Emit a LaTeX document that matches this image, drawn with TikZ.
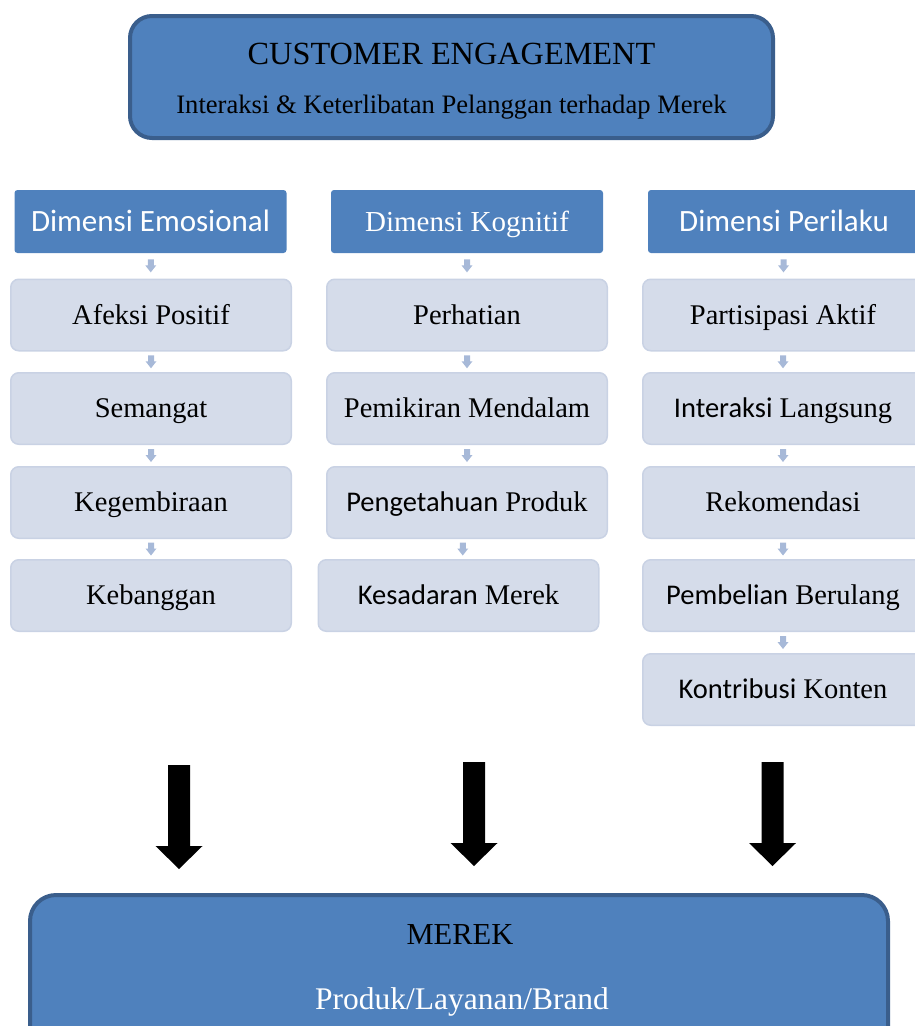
\documentclass[tikz,border=0pt]{standalone}
\usepackage{fontspec}
\setmainfont{Liberation Serif}
\newfontfamily\calfont{Carlito}
\usetikzlibrary{calc}
\definecolor{mainblue}{HTML}{4F81BD}
\definecolor{mainline}{HTML}{3A5E8C}
\definecolor{itemfill}{HTML}{D5DCEA}
\definecolor{itemline}{HTML}{C9D2E4}
\definecolor{sarrow}{HTML}{A7B9D8}
\tikzset{
  bigbox/.style={draw=mainline, line width=4pt, fill=mainblue, rounded corners=22pt, inner sep=0pt},
  hdrbox/.style={fill=mainblue, rounded corners=3pt, inner sep=0pt, text=white,
     minimum width=272pt, minimum height=63pt, text height=20pt, text depth=0pt},
  hdrsans/.style={font=\calfont\fontsize{31}{35}\selectfont},
  hdrserif/.style={font=\fontsize{29}{33}\selectfont},
  itembox/.style={fill=itemfill, draw=itemline, line width=1.5pt, rounded corners=8pt, inner sep=0pt,
     minimum width=280.5pt, minimum height=71.5pt, text height=18.5pt, text depth=0pt,
     font=\fontsize{28.5}{32}\selectfont},
  smallarr/.pic={\fill[sarrow] (-3,-6.5) -- (3,-6.5) -- (3,-0.5) -- (5.5,-0.5) -- (0,6.5) -- (-5.5,-0.5) -- (-3,-0.5) -- cycle;},
  bigarr/.pic={\fill[black] (-11,0) -- (11,0) -- (11,81) -- (23.5,81) -- (0,104) -- (-23.5,81) -- (-11,81) -- cycle;}
}
\newcommand{\cs}[1]{{\calfont #1}}
\begin{document}
\begin{tikzpicture}[x=1pt,y=-1pt]
\useasboundingbox (0,0) rectangle (915,1026);
\clip (0,0) rectangle (915,1026);
% top box
\node[bigbox, minimum width=643pt, minimum height=122pt] (top) at (451.5,77) {};
\node[anchor=base, font=\fontsize{32.3}{36}\selectfont] (toptitle) at (451.5,64) {CUSTOMER ENGAGEMENT};
\node[anchor=base, font=\fontsize{26.6}{30}\selectfont] (topsub) at (451.5,113) {Interaksi \& Keterlibatan Pelanggan terhadap Merek};
% headers
\node[hdrbox, hdrsans] (h1) at (150.5,221.5) {Dimensi Emosional};
\node[hdrbox, hdrserif] (h2) at (467,221.5) {Dimensi Kognitif};
\node[hdrbox, hdrsans] (h3) at (784,221.5) {Dimensi Perilaku};
% column 1
\node[itembox] (a1) at (151,315) {Afeksi Positif};
\node[itembox] (a2) at (151,408.5) {Semangat};
\node[itembox] (a3) at (151,502.5) {Kegembiraan};
\node[itembox] (a4) at (151,595.5) {Kebanggan};
% column 2
\node[itembox] (b1) at (467,315) {Perhatian};
\node[itembox] (b2) at (467,408.5) {Pemikiran Mendalam};
\node[itembox] (b3) at (467,502.5) {\cs{Pengetahuan} Produk};
\node[itembox] (b4) at (458.5,595.5) {\cs{Kesadaran} Merek};
% column 3
\node[itembox] (c1) at (783,315) {Partisipasi Aktif};
\node[itembox] (c2) at (783,408.5) {\cs{Interaksi} Langsung};
\node[itembox] (c3) at (783,502.5) {Rekomendasi};
\node[itembox] (c4) at (783,595.5) {\cs{Pembelian} Berulang};
\node[itembox] (c5) at (783,689.5) {\cs{Kontribusi} Konten};
% small arrows
\foreach \u/\v in {h1/a1,a1/a2,a2/a3,a3/a4,h2/b1,b1/b2,b2/b3,b3/b4,h3/c1,c1/c2,c2/c3,c3/c4,c4/c5}
  \path ($(\u.south)!0.5!(\v.north)$) pic{smallarr};
% bottom box
\node[bigbox, minimum width=858pt, minimum height=165pt, rounded corners=26pt] (bottom) at (459,977.5) {};
\node[anchor=base, font=\fontsize{30.5}{34}\selectfont] (btitle) at (460,944) {MEREK};
\node[anchor=base, text=white, font=\fontsize{31.5}{35}\selectfont] (bsub) at (462,1009) {Produk/Layanan/Brand};
% big arrows
\coordinate (s1) at (179,765);
\coordinate (s2) at (474,762);
\coordinate (s3) at (772.5,762);
\path (s1) pic{bigarr};
\path (s2) pic{bigarr};
\path (s3) pic{bigarr};
\end{tikzpicture}
\end{document}
